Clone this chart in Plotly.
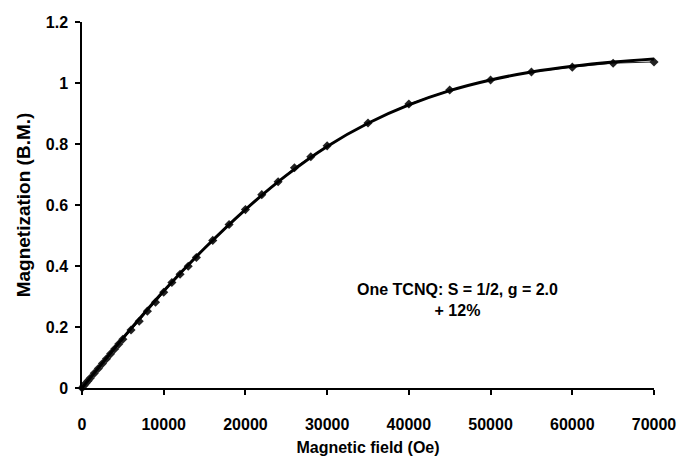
import plotly.graph_objects as go

# Measured data (field in Oe, magnetization in B.M.)
field_data = [0, 250, 500, 750, 1000, 1500, 2000, 2500, 3000, 3500, 4000, 4500, 5000,
              6000, 7000, 8000, 9000, 10000, 11000, 12000, 13000, 14000, 16000, 18000,
              20000, 22000, 24000, 26000, 28000, 30000, 35000, 40000, 45000, 50000,
              55000, 60000, 65000, 70000]
mag_data = [0.0, 0.008, 0.016, 0.024, 0.032, 0.048, 0.064, 0.080, 0.096, 0.112, 0.128, 0.144, 0.160,
            0.190, 0.219, 0.252, 0.281, 0.314, 0.346, 0.373, 0.399, 0.428, 0.484, 0.536,
            0.585, 0.634, 0.676, 0.722, 0.758, 0.794, 0.869, 0.931, 0.977, 1.010,
            1.036, 1.052, 1.065, 1.069]

# Theoretical curve (S = 1/2, g = 2.0, + 12%)
field_fit = [0, 5000, 10000, 15000, 20000, 25000, 30000, 35000, 40000, 45000,
             50000, 55000, 60000, 65000, 70000]
mag_fit = [0.0, 0.163, 0.318, 0.458, 0.585, 0.697, 0.792, 0.868, 0.928, 0.975,
           1.010, 1.036, 1.055, 1.069, 1.079]

x_ticks = [0, 10000, 20000, 30000, 40000, 50000, 60000, 70000]
y_ticks = [0, 0.2, 0.4, 0.6, 0.8, 1.0, 1.2]
y_ticklabels = ["0", "0.2", "0.4", "0.6", "0.8", "1", "1.2"]

FONT = "Liberation Sans, Arial, sans-serif"

fig = go.Figure()
fig.add_trace(go.Scatter(
    x=field_data, y=mag_data, mode="lines+markers",
    line=dict(color="#222222", width=1),
    marker=dict(symbol="diamond", size=7, color="#222222"),
    cliponaxis=False, showlegend=False))
fig.add_trace(go.Scatter(
    x=field_fit, y=mag_fit, mode="lines",
    line=dict(color="black", width=3, shape="spline"),
    cliponaxis=False, showlegend=False))

fig.add_annotation(
    x=45900, y=0.29, xref="x", yref="y",
    text="<b>One TCNQ: S = 1/2, g = 2.0</b><br><b>+ 12%</b>",
    showarrow=False, align="center",
    font=dict(family=FONT, size=16, color="black"))

fig.update_layout(
    width=682, height=461,
    margin=dict(l=82, r=28, t=22, b=73),
    paper_bgcolor="white", plot_bgcolor="white",
    font=dict(family=FONT, color="black"),
)
fig.update_xaxes(
    range=[0, 70000], tickvals=x_ticks, ticktext=[str(v) for v in x_ticks],
    showgrid=False, zeroline=False, showline=True, linecolor="black", linewidth=1.5,
    ticks="outside", ticklen=5, tickwidth=1.5, tickcolor="black",
    ticklabelstandoff=16, automargin=False,
    tickfont=dict(family=FONT, size=16, color="black", weight="bold"),
    title=dict(text="<b>Magnetic field (Oe)</b>", font=dict(family=FONT, size=16, color="black"), standoff=10),
)
fig.update_yaxes(
    range=[0, 1.2], tickvals=y_ticks, ticktext=y_ticklabels,
    showgrid=False, zeroline=False, showline=True, linecolor="black", linewidth=1.5,
    ticks="outside", ticklen=5, tickwidth=1.5, tickcolor="black",
    ticklabelstandoff=4, automargin=False,
    tickfont=dict(family=FONT, size=16, color="black", weight="bold"),
    title=dict(text="<b>Magnetization (B.M.)</b>", font=dict(family=FONT, size=19, color="black"), standoff=10),
)

fig.write_html("out.html")
